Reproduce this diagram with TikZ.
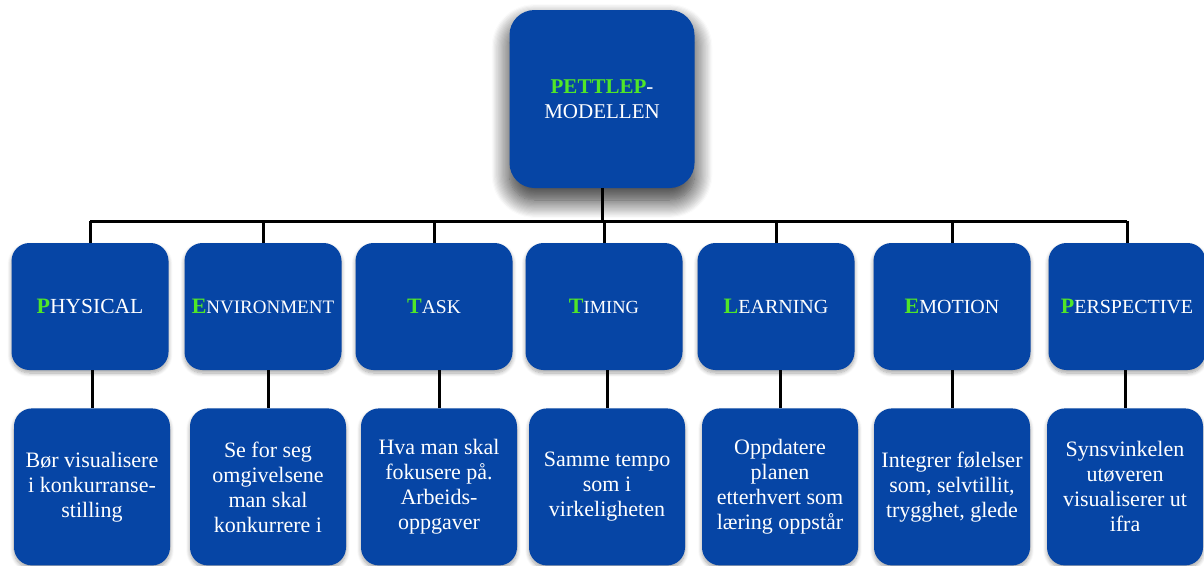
\documentclass[tikz,border=0pt]{standalone}
\usepackage{fontspec}
\setmainfont{Liberation Serif}
\usepackage{xcolor}
\usetikzlibrary{positioning, shadows.blur}

\definecolor{pettblue}{RGB}{6,69,165}
\definecolor{pettgreen}{RGB}{80,230,40}

\newcommand{\firstcap}[3][19.5]{{\fontsize{22}{25}\selectfont\bfseries\color{pettgreen}#2}{\fontsize{#1}{25}\selectfont #3}}

\begin{document}
\begin{tikzpicture}[x=1pt, y=1pt,
    box/.style={draw=none, fill=pettblue, text=white, rounded corners=18pt,
        align=center, font=\fontsize{22}{25}\selectfont,
        blur shadow={shadow xshift=0pt, shadow yshift=-3pt, shadow blur radius=4pt, shadow blur steps=8, shadow opacity=35}},
    head/.style={box, minimum width=157pt, minimum height=127pt},
    info/.style={box, minimum width=156pt, minimum height=157pt, below=38pt of #1},
    link/.style={line width=3pt, black}]
    \useasboundingbox (0,0) rectangle (1204,-565);
%
    \node[box, minimum width=185pt, minimum height=178pt, rounded corners=25pt,
        font=\fontsize{21}{25}\selectfont,
        blur shadow={shadow xshift=0pt, shadow yshift=-12pt, shadow blur radius=18pt, shadow blur steps=16, shadow opacity=50}]
        (top) at (602,-99) {{\bfseries\color{pettgreen}PETTLEP}-\\MODELLEN};
%
    \node[head] (P)  at (90,-306.5)    {\firstcap[21.5]{P}{HYSICAL}};
    \node[head] (E)  at (263,-306.5)   {\firstcap[19]{E}{NVIRONMENT}};
    \node[head] (T)  at (434,-306.5)   {\firstcap{T}{ASK}};
    \node[head] (Ti) at (604,-306.5)   {\firstcap[18.5]{T}{IMING}};
    \node[head] (L)  at (776,-306.5)   {\firstcap[20]{L}{EARNING}};
    \node[head] (Em) at (952,-306.5)   {\firstcap[20]{E}{MOTION}};
    \node[head] (Pe) at (1127,-306.5)  {\firstcap[20]{P}{ERSPECTIVE}};
%
    \node[info=P, xshift=2pt]  (Pd)  {Bør visualisere\\i konkurranse-\\stilling};
    \node[info=E, xshift=5pt]  (Ed)  {Se for seg\\omgivelsene\\man skal\\konkurrere i};
    \node[info=T, xshift=5pt]  (Td)  {Hva man skal\\fokusere på.\\Arbeids-\\oppgaver};
    \node[info=Ti, xshift=3pt] (Tid) {Samme tempo\\som i\\virkeligheten};
    \node[info=L, xshift=4pt]  (Ld)  {Oppdatere\\planen\\etterhvert som\\læring oppstår};
    \node[info=Em]             (Emd) {Integrer følelser\\som, selvtillit,\\trygghet, glede};
    \node[info=Pe, xshift=-2pt] (Ped) {Synsvinkelen\\utøveren\\visualiserer ut\\ifra};
%
    \coordinate (bus) at ([yshift=-33pt]top.south);
    \draw[link] (top.south) -- (bus);
    \draw[link] (bus -| P.north) -- (bus -| Pe.north);
    \foreach \n/\m in {P/Pd, E/Ed, T/Td, Ti/Tid, L/Ld, Em/Emd, Pe/Ped} {
        \draw[link] (bus -| \n.north) -- (\n.north);
        \draw[link] (\n.south -| \m.north) -- (\m.north);
    }
\end{tikzpicture}
\end{document}
